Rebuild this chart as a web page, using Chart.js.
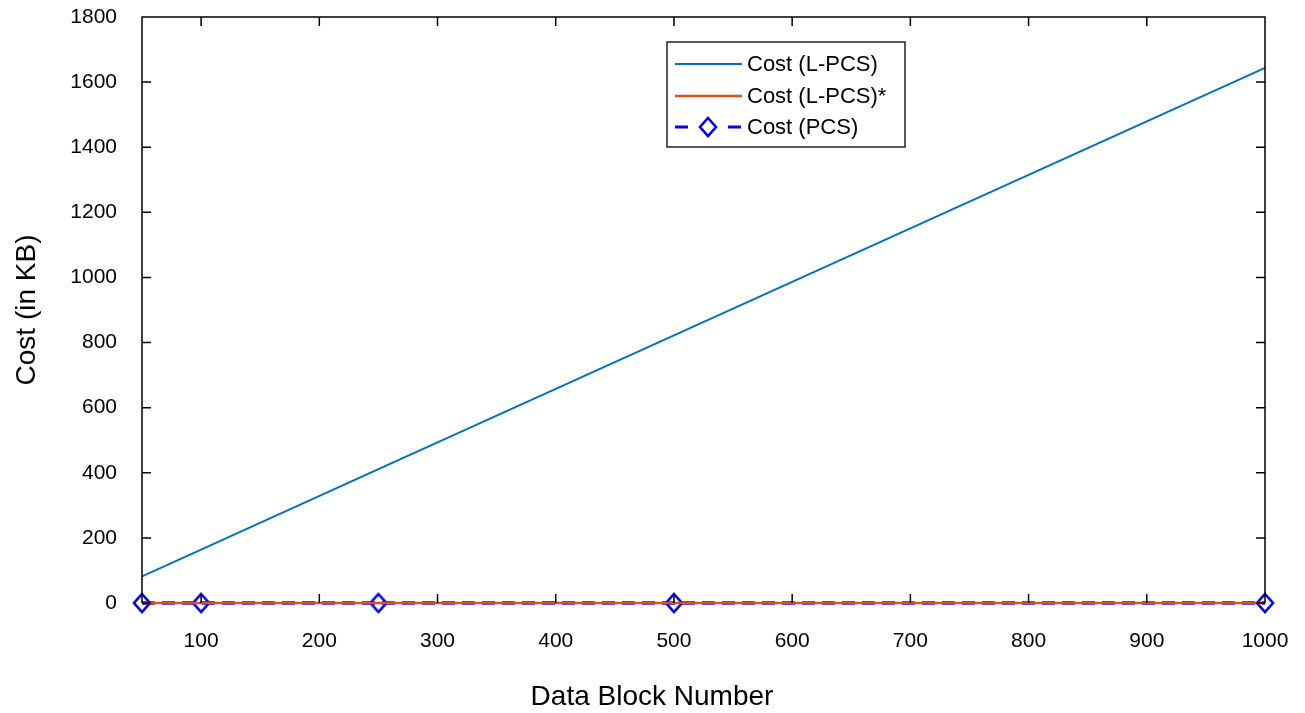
<!DOCTYPE html>
<html>
<head>
<meta charset="utf-8">
<script src="https://cdn.jsdelivr.net/npm/chart.js@4/dist/chart.umd.min.js"></script>
<style>
  html, body { margin: 0; padding: 0; background: #fff; }
  #wrap { width: 1305px; height: 713px; }
</style>
</head>
<body>
<div id="wrap"><canvas id="cost"></canvas></div>
<script>
// block counts and cost per scheme (KB)
var blocks = [50, 100, 250, 500, 1000];
var costLPCS = [82, 164, 411, 822, 1644];
var costLPCSStar = [0, 0, 0, 0, 0];
var costPCS = [0, 0, 0, 0, 0];

var xTicks = [100, 200, 300, 400, 500, 600, 700, 800, 900, 1000];
var yTicks = [0, 200, 400, 600, 800, 1000, 1200, 1400, 1600, 1800];

function pts(vals) {
    return blocks.map(function(b, i) { return { x: b, y: vals[i] }; });
}

var FONT = '"Liberation Sans", Arial, Helvetica, sans-serif';

// hollow diamond marker, a bit taller than wide
var diamond = document.createElement('canvas');
diamond.width = 20;
diamond.height = 22;
(function() {
    var c = diamond.getContext('2d');
    c.strokeStyle = '#0000FF';
    c.lineWidth = 2.6;
    c.beginPath();
    c.moveTo(10, 2);
    c.lineTo(18, 11);
    c.lineTo(10, 20);
    c.lineTo(2, 11);
    c.closePath();
    c.stroke();
})();

// labels may hang past the plot edges, don't let them shrink it
function noPad(s) {
    s.paddingTop = 0;
    s.paddingBottom = 0;
    s.paddingLeft = 0;
    s.paddingRight = 0;
}

// box round the plot with inward tick marks on all four sides
var frame = {
    id: 'frame',
    afterDatasetsDraw: function(chart) {
        var ctx = chart.ctx, a = chart.chartArea;
        var xs = chart.scales.x, ys = chart.scales.y;
        var len = 9;
        ctx.save();
        ctx.strokeStyle = '#000';
        ctx.lineWidth = 1.5;
        ctx.beginPath();
        ctx.moveTo(a.left, a.bottom);
        ctx.lineTo(a.left, a.top);
        ctx.lineTo(a.right, a.top);
        ctx.lineTo(a.right, a.bottom);
        xTicks.forEach(function(v) {
            var px = xs.getPixelForValue(v);
            ctx.moveTo(px, a.bottom); ctx.lineTo(px, a.bottom - len);
            ctx.moveTo(px, a.top); ctx.lineTo(px, a.top + len);
        });
        yTicks.forEach(function(v) {
            var py = ys.getPixelForValue(v);
            ctx.moveTo(a.left, py); ctx.lineTo(a.left + len, py);
            ctx.moveTo(a.right, py); ctx.lineTo(a.right - len, py);
        });
        ctx.stroke();

        // x axis title
        ctx.fillStyle = '#000';
        ctx.font = '28px ' + FONT;
        ctx.textAlign = 'center';
        ctx.textBaseline = 'middle';
        ctx.fillText('Data Block Number', 652, 697);
        ctx.restore();
    }
};

// legend box inside the plot, upper middle
var boxLegend = {
    id: 'boxLegend',
    afterDraw: function(chart) {
        var ctx = chart.ctx;
        var x0 = 667, y0 = 42, w = 238, h = 105;
        var rows = [64, 96, 127];
        ctx.save();
        ctx.fillStyle = '#fff';
        ctx.fillRect(x0, y0, w, h);
        ctx.strokeStyle = '#000';
        ctx.lineWidth = 1.3;
        ctx.strokeRect(x0, y0, w, h);
        chart.data.datasets.forEach(function(ds, i) {
            var y = rows[i];
            ctx.strokeStyle = ds.borderColor;
            ctx.lineWidth = Math.min(ds.borderWidth, 3);
            // dashed sample: one dash each side of the marker
            ctx.setLineDash(ds.borderDash ? [13, 40] : []);
            ctx.beginPath();
            ctx.moveTo(675, y);
            ctx.lineTo(742, y);
            ctx.stroke();
            ctx.setLineDash([]);
            if (ds.pointStyle) {
                ctx.drawImage(ds.pointStyle, 708 - 10, y - 11);
            }
            ctx.fillStyle = '#000';
            ctx.font = '22px ' + FONT;
            ctx.textBaseline = 'middle';
            ctx.fillText(ds.label, 747, y + 1);
        });
        ctx.restore();
    }
};

new Chart(document.getElementById('cost'), {
    type: 'line',
    data: {
        datasets: [{
            label: 'Cost (L-PCS)',
            data: pts(costLPCS),
            borderColor: '#0072BD',
            borderWidth: 2,
            pointRadius: 0
        }, {
            label: 'Cost (L-PCS)*',
            data: pts(costLPCSStar),
            borderColor: '#D95319',
            borderWidth: 2.5,
            pointRadius: 0
        }, {
            label: 'Cost (PCS)',
            data: pts(costPCS),
            borderColor: '#0000FF',
            borderWidth: 3.5,
            borderDash: [13, 7],
            pointStyle: diamond,
            pointRadius: 9
        }]
    },
    options: {
        responsive: true,
        maintainAspectRatio: false,
        animation: false,
        clip: false,
        layout: { padding: { top: 17, right: 40, left: 0, bottom: 0 } },
        plugins: {
            legend: { display: false },
            tooltip: { enabled: false }
        },
        scales: {
            x: {
                type: 'linear',
                min: 50,
                max: 1000,
                afterBuildTicks: function(s) {
                    s.ticks = xTicks.map(function(v) { return { value: v }; });
                },
                afterFit: function(s) { s.height = 110; noPad(s); },
                grid: { display: false, drawTicks: false },
                border: { display: false },
                ticks: {
                    color: '#000',
                    padding: 26,
                    maxRotation: 0,
                    font: { family: FONT, size: 21 },
                    callback: function(v) { return String(v); }
                }
            },
            y: {
                min: 0,
                max: 1800,
                afterBuildTicks: function(s) {
                    s.ticks = yTicks.map(function(v) { return { value: v }; });
                },
                afterFit: function(s) { s.width = 142; noPad(s); },
                grid: { display: false, drawTicks: false },
                border: { display: false },
                ticks: {
                    color: '#000',
                    padding: 25,
                    font: { family: FONT, size: 21 },
                    callback: function(v) { return String(v); }
                },
                title: {
                    display: true,
                    text: 'Cost (in KB)',
                    color: '#000',
                    font: { family: FONT, size: 28 },
                    padding: { top: 10, bottom: 0 }
                }
            }
        }
    },
    plugins: [frame, boxLegend]
});
</script>
</body>
</html>
